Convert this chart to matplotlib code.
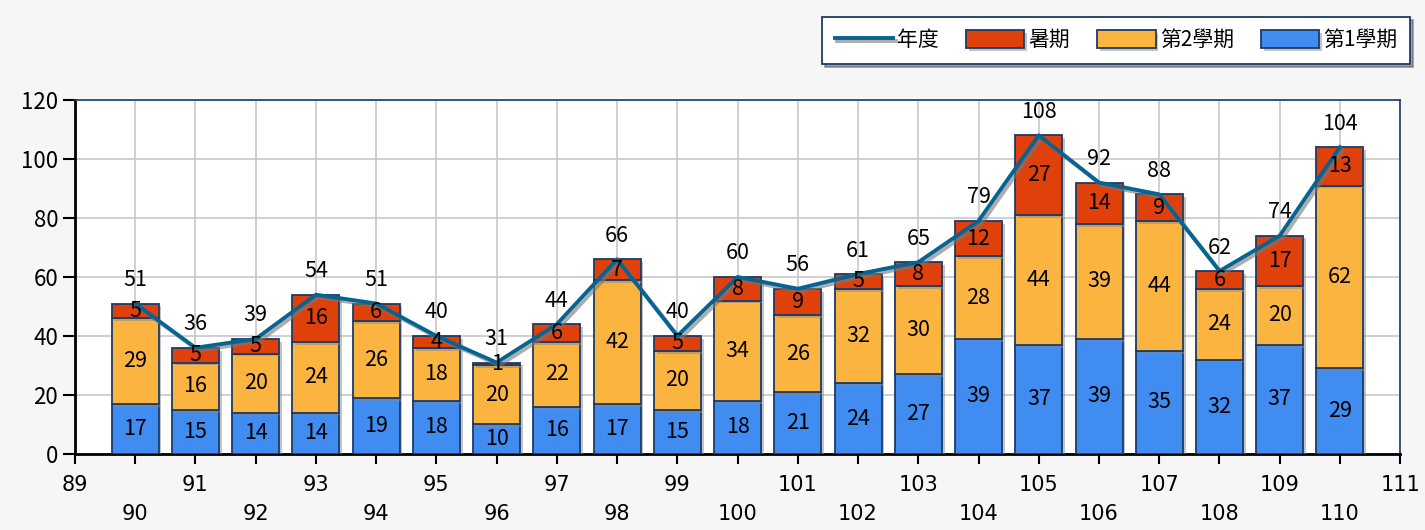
import matplotlib.pyplot as plt
import matplotlib.patheffects as pe
import numpy as np

plt.rcParams['font.family'] = ['Noto Sans CJK TC', 'DejaVu Sans']

years = [90, 91, 92, 93, 94, 95, 96, 97, 98, 99, 100,
         101, 102, 103, 104, 105, 106, 107, 108, 109, 110]
sem1 = [17, 15, 14, 14, 19, 18, 10, 16, 17, 15, 18,
        21, 24, 27, 39, 37, 39, 35, 32, 37, 29]
sem2 = [29, 16, 20, 24, 26, 18, 20, 22, 42, 20, 34,
        26, 32, 30, 28, 44, 39, 44, 24, 20, 62]
summer = [5, 5, 5, 16, 6, 4, 1, 6, 7, 5, 8,
          9, 5, 8, 12, 27, 14, 9, 6, 17, 13]
total = [51, 36, 39, 54, 51, 40, 31, 44, 66, 40, 60,
         56, 61, 65, 79, 108, 92, 88, 62, 74, 104]

c_sem1 = '#418CF0'
c_sem2 = '#FCB441'
c_summer = '#E0400A'
c_line = '#056492'
c_edge = '#1A3B69'

fig = plt.figure(figsize=(14.25, 5.3), dpi=100)
fig.patch.set_facecolor('#f6f6f6')
ax = fig.add_axes([0.0526, 0.1434, 0.93, 0.668])
ax.set_facecolor('white')

x = np.array(years)
s1 = np.array(sem1)
s2 = np.array(sem2)
su = np.array(summer)
shadow = [pe.SimplePatchShadow(offset=(2, -2), shadow_rgbFace='#888888', alpha=0.5), pe.Normal()]

w = 0.78
b1 = ax.bar(x, s1, w, color=c_sem1, edgecolor=c_edge, linewidth=1.3, label='第1學期', zorder=3)
b2 = ax.bar(x, s2, w, bottom=s1, color=c_sem2, edgecolor=c_edge, linewidth=1.3, label='第2學期', zorder=3)
b3 = ax.bar(x, su, w, bottom=s1 + s2, color=c_summer, edgecolor=c_edge, linewidth=1.3, label='暑期', zorder=3)
for bars in (b1, b2, b3):
    for p in bars:
        p.set_path_effects(shadow)

ln, = ax.plot(x, total, color=c_line, lw=2.8, label='年度', zorder=5,
              path_effects=[pe.SimpleLineShadow(offset=(2, -2), shadow_color='#777777', alpha=0.6), pe.Normal()])

# segment values
lbl = dict(ha='center', va='center', fontsize=15.5, zorder=6)
for i, xi in enumerate(x):
    ax.text(xi, s1[i] / 2, str(s1[i]), **lbl)
    ax.text(xi, s1[i] + s2[i] / 2, str(s2[i]), **lbl)
    ax.text(xi, s1[i] + s2[i] + su[i] / 2, str(su[i]), **lbl)
    ax.annotate(str(total[i]), (xi, total[i]), xytext=(0, 9), textcoords='offset points',
                ha='center', va='bottom', fontsize=15.5, zorder=6)

ax.set_xlim(89, 111)
ax.set_ylim(0, 120)
# odd years on the first row, even years staggered below
odd = np.arange(89, 112, 2)
even = np.arange(90, 111, 2)
ax.set_xticks(odd)
ax.set_xticklabels([str(t) for t in odd], fontsize=15, family='DejaVu Sans')
ax.set_xticks(even, minor=True)
ax.set_xticklabels([str(t) for t in even], minor=True, fontsize=15, family='DejaVu Sans')
ax.set_yticks(np.arange(0, 121, 20))
ax.set_yticklabels([str(v) for v in range(0, 121, 20)], fontsize=16)
ax.tick_params(axis='y', length=9, width=1.5, direction='out', pad=3)
ax.tick_params(axis='x', which='major', length=7, width=1.5, direction='out', pad=8)
ax.tick_params(axis='x', which='minor', length=7, width=1.5, direction='out', pad=29)
ax.grid(True, which='both', axis='x', color='#c8c8c8', lw=1.2, zorder=0)
ax.grid(True, axis='y', color='#c8c8c8', lw=1.2, zorder=0)
ax.set_axisbelow(True)

for s in ('left', 'bottom'):
    ax.spines[s].set_color('black')
    ax.spines[s].set_linewidth(2)
for s in ('top', 'right'):
    ax.spines[s].set_color(c_edge)
    ax.spines[s].set_linewidth(1.2)

leg = fig.legend(handles=[ln, b3, b2, b1], labels=['年度', '暑期', '第2學期', '第1學期'],
                 loc='upper right', bbox_to_anchor=(0.997, 0.988), ncol=4, fontsize=15,
                 frameon=True, fancybox=False, shadow=True, edgecolor=c_edge,
                 handlelength=2.8, handleheight=1.0, columnspacing=1.3, handletextpad=0.2,
                 borderpad=0.6)
leg.get_frame().set_linewidth(1.3)

fig.savefig('out.png', dpi=100, facecolor=fig.get_facecolor())
